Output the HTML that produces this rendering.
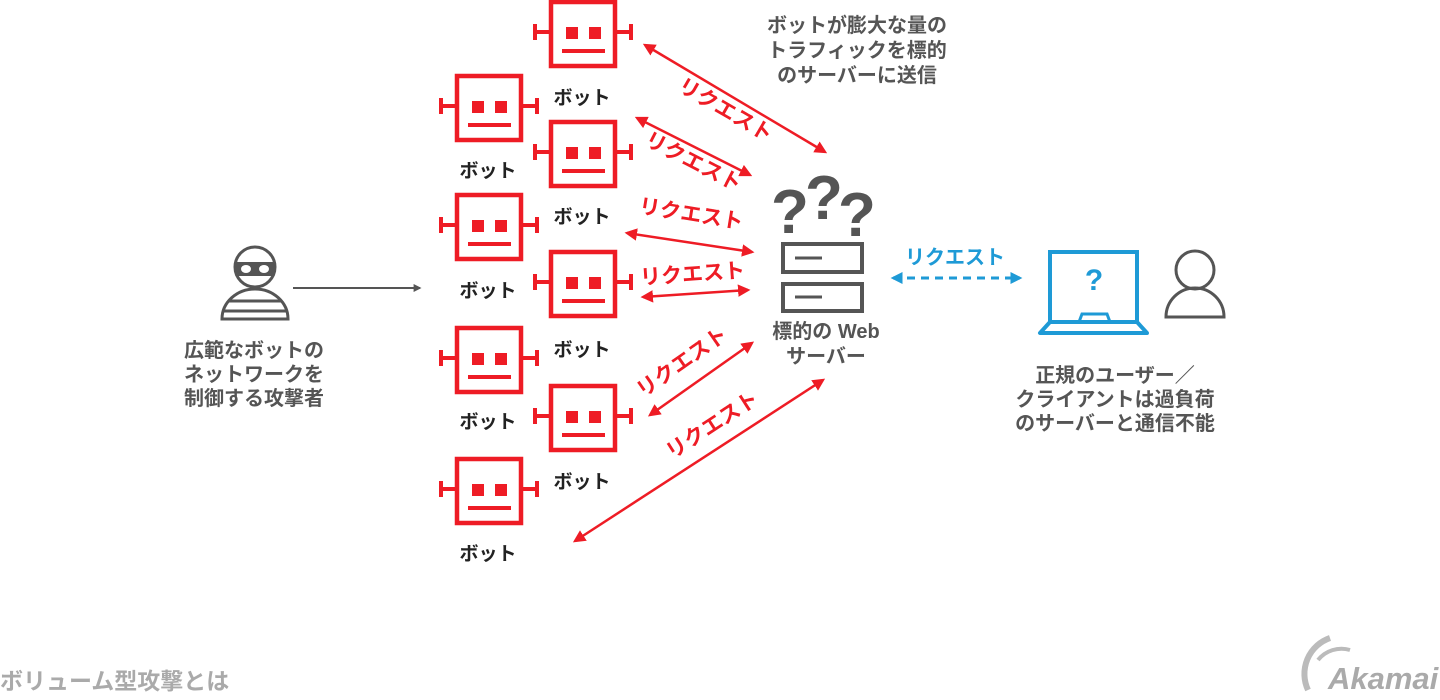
<!DOCTYPE html>
<html><head><meta charset="utf-8"><style>
html,body{margin:0;padding:0;background:#fff;width:1440px;height:700px;overflow:hidden}
svg text{font-family:"Liberation Sans","Noto Sans CJK JP",sans-serif;font-weight:bold}
</style></head><body>
<svg width="1440" height="700" viewBox="0 0 1440 700" xmlns="http://www.w3.org/2000/svg">
<defs>
<g id="robot">
<rect x="2" y="2" width="64" height="64" fill="none" stroke="#ee1c25" stroke-width="4.5"/>
<line x1="-15" y1="32" x2="0" y2="32" stroke="#ee1c25" stroke-width="4"/>
<line x1="-14" y1="24" x2="-14" y2="40" stroke="#ee1c25" stroke-width="4"/>
<line x1="68" y1="32" x2="83" y2="32" stroke="#ee1c25" stroke-width="4"/>
<line x1="82" y1="24" x2="82" y2="40" stroke="#ee1c25" stroke-width="4"/>
<rect x="17" y="27" width="12" height="12" fill="#ee1c25"/>
<rect x="40" y="27" width="12" height="12" fill="#ee1c25"/>
<line x1="13" y1="51" x2="56" y2="51" stroke="#ee1c25" stroke-width="4"/>
</g>
<marker id="ar" viewBox="0 0 10 10" refX="8" refY="5" markerWidth="5" markerHeight="5" orient="auto-start-reverse"><path d="M0,0L10,5L0,10z" fill="#ee1c25"/></marker>
<marker id="ab" viewBox="0 0 10 10" refX="8" refY="5" markerWidth="4" markerHeight="4" orient="auto-start-reverse"><path d="M0,0L10,5L0,10z" fill="#1e9ad6"/></marker>
<marker id="ag" viewBox="0 0 10 10" refX="8" refY="5" markerWidth="4" markerHeight="4" orient="auto"><path d="M0,0L10,5L0,10z" fill="#555"/></marker>
</defs>

<use href="#robot" x="549" y="0"/>
<use href="#robot" x="549" y="120"/>
<use href="#robot" x="549" y="250"/>
<use href="#robot" x="549" y="384"/>
<use href="#robot" x="455" y="74"/>
<use href="#robot" x="455" y="193"/>
<use href="#robot" x="455" y="326"/>
<use href="#robot" x="455" y="457"/>

<g font-size="19" fill="#222" text-anchor="middle">
<text x="582" y="104">ボット</text>
<text x="582" y="223">ボット</text>
<text x="582" y="356">ボット</text>
<text x="582" y="488">ボット</text>
<text x="488" y="177">ボット</text>
<text x="488" y="297">ボット</text>
<text x="488" y="428">ボット</text>
<text x="488" y="560">ボット</text>
</g>

<g stroke="#ee1c25" stroke-width="2.5" marker-start="url(#ar)" marker-end="url(#ar)">
<line x1="645" y1="45" x2="825" y2="152"/>
<line x1="637" y1="118" x2="750" y2="175"/>
<line x1="627" y1="233" x2="752" y2="252"/>
<line x1="643" y1="297" x2="748" y2="290"/>
<line x1="650" y1="415" x2="752" y2="343"/>
<line x1="575" y1="541" x2="823" y2="380"/>
</g>
<g font-size="21" fill="#ee1c25" text-anchor="middle">
<text transform="translate(722,116) rotate(30)">リクエスト</text>
<text transform="translate(690,168) rotate(27)">リクエスト</text>
<text transform="translate(690,221) rotate(9)">リクエスト</text>
<text transform="translate(693,281) rotate(-4)">リクエスト</text>
<text transform="translate(686,368) rotate(-35)">リクエスト</text>
<text transform="translate(716,431) rotate(-33)">リクエスト</text>
</g>

<g font-size="20" fill="#555" text-anchor="middle">
<text x="857" y="32">ボットが膨大な量の</text>
<text x="857" y="57">トラフィックを標的</text>
<text x="857" y="82">のサーバーに送信</text>
</g>

<g font-size="62" fill="#555" style="font-family:'Liberation Sans',sans-serif;font-weight:bold">
<text x="771" y="233" style="font-family:'Liberation Sans',sans-serif;font-weight:bold">?</text>
<text x="805" y="219" style="font-family:'Liberation Sans',sans-serif;font-weight:bold">?</text>
<text x="838" y="236" style="font-family:'Liberation Sans',sans-serif;font-weight:bold">?</text>
</g>
<rect x="783" y="244" width="79" height="28" fill="none" stroke="#555" stroke-width="4"/>
<rect x="783" y="284" width="79" height="27" fill="none" stroke="#555" stroke-width="4"/>
<line x1="795" y1="258" x2="822" y2="258" stroke="#555" stroke-width="3"/>
<line x1="795" y1="297" x2="822" y2="297" stroke="#555" stroke-width="3"/>
<g font-size="20" fill="#555" text-anchor="middle">
<text x="826" y="338">標的の Web</text>
<text x="826" y="363">サーバー</text>
</g>

<line x1="893" y1="278" x2="1020" y2="278" stroke="#1e9ad6" stroke-width="3" stroke-dasharray="8,6" marker-start="url(#ab)" marker-end="url(#ab)"/>
<text x="955" y="264" font-size="20" fill="#1e9ad6" text-anchor="middle">リクエスト</text>
<rect x="1050" y="252" width="87" height="70" fill="none" stroke="#1e9ad6" stroke-width="4"/>
<path d="M1050,322 L1040,333 L1147,333 L1137,322" fill="none" stroke="#1e9ad6" stroke-width="4" stroke-linejoin="round"/>
<path d="M1079,322 L1082,314 L1107,314 L1110,322" fill="none" stroke="#1e9ad6" stroke-width="3"/>
<text x="1094" y="290" font-size="30" fill="#1e9ad6" text-anchor="middle" style="font-family:'Liberation Sans',sans-serif;font-weight:bold">?</text>
<circle cx="1195" cy="270" r="19" fill="none" stroke="#555" stroke-width="3"/>
<path d="M1166,317 A29,29 0 0 1 1224,317 Z" fill="none" stroke="#555" stroke-width="3"/>
<g font-size="20" fill="#555" text-anchor="middle">
<text x="1115" y="382">正規のユーザー／</text>
<text x="1115" y="406">クライアントは過負荷</text>
<text x="1115" y="430">のサーバーと通信不能</text>
</g>

<circle cx="255" cy="267" r="20" fill="none" stroke="#555" stroke-width="3"/>
<path d="M236,262 L274,262 L274,276 L236,276 Z" fill="#555"/>
<ellipse cx="246" cy="269" rx="5" ry="4" fill="#fff"/>
<ellipse cx="264" cy="269" rx="5" ry="4" fill="#fff"/>
<path d="M222,319 A33,30 0 0 1 288,319 Z" fill="none" stroke="#555" stroke-width="3"/>
<line x1="228" y1="301" x2="282" y2="301" stroke="#555" stroke-width="3"/>
<line x1="224" y1="311" x2="286" y2="311" stroke="#555" stroke-width="3"/>
<line x1="293" y1="288" x2="420" y2="288" stroke="#555" stroke-width="2" marker-end="url(#ag)"/>
<g font-size="20" fill="#555" text-anchor="middle">
<text x="254" y="357">広範なボットの</text>
<text x="254" y="381">ネットワークを</text>
<text x="254" y="405">制御する攻撃者</text>
</g>

<text x="0" y="689" font-size="23" fill="#aaa">ボリューム型攻撃とは</text>

<path d="M1330,638 A38,38 0 0 0 1308,690" fill="none" stroke="#bbb" stroke-width="6"/>
<path d="M1318,660 A30,30 0 0 1 1350,650" fill="none" stroke="#bbb" stroke-width="4"/>
<text x="1328" y="689" font-size="31" fill="#aaa" style="font-family:'Liberation Sans',sans-serif;font-weight:bold;font-style:italic">Akamai</text>
</svg>
</body></html>
